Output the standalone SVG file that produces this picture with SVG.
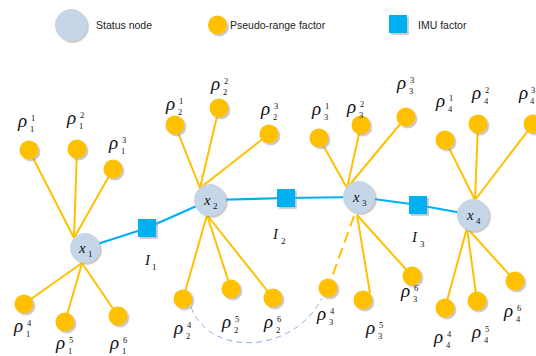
<svg xmlns="http://www.w3.org/2000/svg" width="536" height="356" viewBox="0 0 536 356">
<defs>
<filter id="sh" x="-30%" y="-30%" width="170%" height="170%">
<feDropShadow dx="1.8" dy="1.8" stdDeviation="0.6" flood-color="#9a9a9a" flood-opacity="0.55"/>
</filter>
</defs>
<style>
.st{fill:#C5D6E8;filter:url(#sh)}
.pr{fill:#FFC000;filter:url(#sh)}
.imu{fill:#00B0F0;filter:url(#sh)}
.yl{stroke:#FFC000;stroke-width:2;fill:none}
.bl{stroke:#00B0F0;stroke-width:2.2;fill:none}
.dy{stroke:#FFC000;stroke-width:2;stroke-dasharray:11 6;fill:none}
.db{stroke:#8DB3E2;stroke-width:1;stroke-dasharray:6 4;fill:none}
.leg{font-family:"Liberation Sans",Arial,sans-serif;font-size:10.5px;fill:#222}
.r{font-family:"Liberation Serif","Times New Roman",serif;font-style:italic;font-size:19px;fill:#111}
.s{font-family:"Liberation Serif","Times New Roman",serif;font-size:8.5px;fill:#111}
.xl{font-family:"Liberation Serif","Times New Roman",serif;font-style:italic;font-size:15px;fill:#111}
.xs{font-family:"Liberation Serif","Times New Roman",serif;font-size:9px;fill:#111}
</style>

<g id="legend">
<circle class="st" cx="71" cy="25" r="16"/>
<text class="leg" x="96" y="29">Status node</text>
<circle class="pr" cx="217.5" cy="25" r="9.5"/>
<text class="leg" x="230" y="29">Pseudo-range factor</text>
<rect class="imu" x="389" y="15" width="18" height="18"/>
<text class="leg" x="418" y="29">IMU factor</text>
</g>

<g id="connectors">
<polyline class="bl" points="85,248 147,228 210,200"/>
<polyline class="bl" points="210,200 286,198 359,197"/>
<polyline class="bl" points="359,197 418,205 473,215"/>
<line class="yl" x1="74" y1="238" x2="29" y2="150"/>
<line class="yl" x1="74" y1="238" x2="77" y2="149"/>
<line class="yl" x1="74" y1="238" x2="113" y2="169"/>
<line class="yl" x1="82" y1="263" x2="24" y2="304"/>
<line class="yl" x1="82" y1="263" x2="65" y2="322"/>
<line class="yl" x1="82" y1="263" x2="118" y2="316"/>
<line class="yl" x1="200" y1="188" x2="175" y2="125"/>
<line class="yl" x1="200" y1="188" x2="219" y2="108"/>
<line class="yl" x1="200" y1="188" x2="269" y2="134"/>
<line class="yl" x1="207" y1="215" x2="183" y2="299"/>
<line class="yl" x1="207" y1="215" x2="231" y2="289"/>
<line class="yl" x1="207" y1="215" x2="273" y2="298"/>
<line class="yl" x1="347" y1="188" x2="319" y2="138"/>
<line class="yl" x1="347" y1="188" x2="361" y2="125"/>
<line class="yl" x1="347" y1="188" x2="406" y2="117"/>
<line class="dy" x1="354" y1="216" x2="328" y2="288"/>
<line class="yl" x1="357" y1="215" x2="370" y2="293"/>
<line class="yl" x1="357" y1="215" x2="412" y2="276"/>
<line class="yl" x1="475" y1="200" x2="445" y2="140"/>
<line class="yl" x1="475" y1="200" x2="478" y2="124"/>
<line class="yl" x1="475" y1="200" x2="533" y2="124"/>
<line class="yl" x1="467" y1="228" x2="445" y2="308"/>
<line class="yl" x1="467" y1="228" x2="477" y2="301"/>
<line class="yl" x1="467" y1="228" x2="515" y2="281"/>
<path class="db" d="M191,307 C208,356 292,356 322,298"/>
</g>

<g id="I1"><rect class="imu" x="138" y="219" width="18" height="18"/><text class="xl" x="145" y="265" font-size="16">I</text><text class="xs" x="152" y="270">1</text></g>
<g id="I2"><rect class="imu" x="277" y="189" width="18" height="18"/><text class="xl" x="273" y="239" font-size="16">I</text><text class="xs" x="281" y="244">2</text></g>
<g id="I3"><rect class="imu" x="409" y="196" width="18" height="18"/><text class="xl" x="412" y="242" font-size="16">I</text><text class="xs" x="420" y="247">3</text></g>

<g id="x1"><circle class="st" cx="85" cy="248" r="15"/><text class="xl" x="79" y="253">x</text><text class="xs" x="88" y="257">1</text></g>
<g id="x2"><circle class="st" cx="210" cy="200" r="16"/><text class="xl" x="204" y="205">x</text><text class="xs" x="213" y="209">2</text></g>
<g id="x3"><circle class="st" cx="359" cy="197" r="16"/><text class="xl" x="353" y="202">x</text><text class="xs" x="362" y="206">3</text></g>
<g id="x4"><circle class="st" cx="473" cy="215" r="16"/><text class="xl" x="467" y="220">x</text><text class="xs" x="476" y="224">4</text></g>

<g id="p1_1"><circle class="pr" cx="29" cy="150" r="9.5"/><text class="r" x="18" y="127">ρ</text><text class="s" x="31" y="121">1</text><text class="s" x="30" y="132">1</text></g>
<g id="p1_2"><circle class="pr" cx="77" cy="149" r="9.5"/><text class="r" x="67" y="124">ρ</text><text class="s" x="80" y="118">2</text><text class="s" x="79" y="129">1</text></g>
<g id="p1_3"><circle class="pr" cx="113" cy="169" r="9.5"/><text class="r" x="109" y="149">ρ</text><text class="s" x="122" y="143">3</text><text class="s" x="121" y="154">1</text></g>
<g id="p1_4"><circle class="pr" cx="24" cy="304" r="9.5"/><text class="r" x="14" y="332">ρ</text><text class="s" x="27" y="326">4</text><text class="s" x="26" y="337">1</text></g>
<g id="p1_5"><circle class="pr" cx="65" cy="322" r="9.5"/><text class="r" x="56" y="349">ρ</text><text class="s" x="69" y="343">5</text><text class="s" x="68" y="354">1</text></g>
<g id="p1_6"><circle class="pr" cx="118" cy="316" r="9.5"/><text class="r" x="110" y="349">ρ</text><text class="s" x="123" y="343">6</text><text class="s" x="122" y="354">1</text></g>

<g id="p2_1"><circle class="pr" cx="175" cy="125" r="9.5"/><text class="r" x="166" y="110">ρ</text><text class="s" x="179" y="104">1</text><text class="s" x="178" y="115">2</text></g>
<g id="p2_2"><circle class="pr" cx="219" cy="108" r="9.5"/><text class="r" x="211" y="90">ρ</text><text class="s" x="224" y="84">2</text><text class="s" x="223" y="95">2</text></g>
<g id="p2_3"><circle class="pr" cx="269" cy="134" r="9.5"/><text class="r" x="261" y="115">ρ</text><text class="s" x="274" y="109">3</text><text class="s" x="273" y="120">2</text></g>
<g id="p2_4"><circle class="pr" cx="183" cy="299" r="9.5"/><text class="r" x="174" y="334">ρ</text><text class="s" x="187" y="328">4</text><text class="s" x="186" y="339">2</text></g>
<g id="p2_5"><circle class="pr" cx="231" cy="289" r="9.5"/><text class="r" x="222" y="328">ρ</text><text class="s" x="235" y="322">5</text><text class="s" x="234" y="333">2</text></g>
<g id="p2_6"><circle class="pr" cx="273" cy="298" r="9.5"/><text class="r" x="264" y="328">ρ</text><text class="s" x="277" y="322">6</text><text class="s" x="276" y="333">2</text></g>

<g id="p3_1"><circle class="pr" cx="319" cy="138" r="9.5"/><text class="r" x="312" y="115">ρ</text><text class="s" x="325" y="109">1</text><text class="s" x="324" y="120">3</text></g>
<g id="p3_2"><circle class="pr" cx="361" cy="125" r="9.5"/><text class="r" x="347" y="113">ρ</text><text class="s" x="360" y="107">2</text><text class="s" x="359" y="118">3</text></g>
<g id="p3_3"><circle class="pr" cx="406" cy="117" r="9.5"/><text class="r" x="397" y="89">ρ</text><text class="s" x="410" y="83">3</text><text class="s" x="409" y="94">3</text></g>
<g id="p3_4"><circle class="pr" cx="328" cy="288" r="9.5"/><text class="r" x="317" y="320">ρ</text><text class="s" x="330" y="314">4</text><text class="s" x="329" y="325">3</text></g>
<g id="p3_5"><circle class="pr" cx="363" cy="300" r="9.5"/><text class="r" x="366" y="334">ρ</text><text class="s" x="379" y="328">5</text><text class="s" x="378" y="339">3</text></g>
<g id="p3_6"><circle class="pr" cx="412" cy="276" r="9.5"/><text class="r" x="401" y="297">ρ</text><text class="s" x="414" y="291">6</text><text class="s" x="413" y="302">3</text></g>

<g id="p4_1"><circle class="pr" cx="445" cy="140" r="9.5"/><text class="r" x="436" y="107">ρ</text><text class="s" x="449" y="101">1</text><text class="s" x="448" y="112">4</text></g>
<g id="p4_2"><circle class="pr" cx="478" cy="124" r="9.5"/><text class="r" x="472" y="99">ρ</text><text class="s" x="485" y="93">2</text><text class="s" x="484" y="104">4</text></g>
<g id="p4_3"><circle class="pr" cx="533" cy="124" r="9.5"/><text class="r" x="519" y="99">ρ</text><text class="s" x="531" y="93">3</text><text class="s" x="530" y="104">4</text></g>
<g id="p4_4"><circle class="pr" cx="445" cy="308" r="9.5"/><text class="r" x="434" y="343">ρ</text><text class="s" x="447" y="337">4</text><text class="s" x="446" y="348">4</text></g>
<g id="p4_5"><circle class="pr" cx="477" cy="301" r="9.5"/><text class="r" x="472" y="338">ρ</text><text class="s" x="485" y="332">5</text><text class="s" x="484" y="343">4</text></g>
<g id="p4_6"><circle class="pr" cx="515" cy="281" r="9.5"/><text class="r" x="504" y="317">ρ</text><text class="s" x="517" y="311">6</text><text class="s" x="516" y="322">4</text></g>
</svg>
